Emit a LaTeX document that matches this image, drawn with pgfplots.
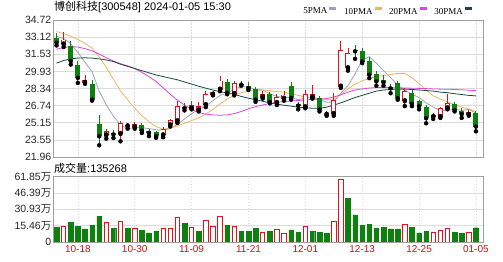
\documentclass[border=0pt]{standalone}
\usepackage{fontspec}
\setmainfont{Liberation Sans}
\newfontfamily\cjk{Noto Sans CJK SC}
\newfontfamily\pmafont{Liberation Serif}
\usepackage{pgfplots}
\usepackage{pgfplotstable}
\pgfplotsset{compat=1.18}
\definecolor{upred}{HTML}{E4111A}
\definecolor{dngreen}{HTML}{0E8010}
\definecolor{maA}{HTML}{9DA3B4}
\definecolor{maB}{HTML}{F0B466}
\definecolor{maC}{HTML}{DD44DD}
\definecolor{maD}{HTML}{1B4A3E}
\definecolor{gridc}{HTML}{DCDCDC}
\definecolor{axisc}{HTML}{A0A0A0}
\definecolor{xlab}{HTML}{D01010}

\pgfplotstableread{
x o h l c
1 32.45 33.60 32.20 32.90
4 28.86 29.64 28.77 29.14
7 23.98 24.60 23.67 24.36
9 24.11 25.35 23.42 25.13
10 24.82 25.10 24.60 24.92
11 24.73 25.20 24.60 25.04
15 23.98 24.80 23.80 24.60
16 24.92 25.50 24.80 25.38
17 25.29 27.16 25.13 26.69
19 26.47 27.21 26.40 26.78
20 26.32 27.10 26.20 26.69
21 26.80 28.10 26.60 27.85
22 27.77 28.10 27.70 28.00
23 28.24 29.49 28.09 29.08
25 27.84 29.00 27.70 28.86
29 27.53 28.10 27.40 27.84
31 27.00 27.80 26.80 27.53
32 27.40 28.10 27.20 27.77
35 26.60 28.20 26.50 27.84
36 27.50 28.68 27.40 27.80
38 25.90 26.20 25.80 26.00
39 25.97 27.93 25.80 27.28
40 28.52 32.72 28.40 31.95
41 30.24 32.10 30.00 31.63
49 27.16 28.40 26.70 28.08
53 25.70 26.10 25.50 25.85
54 25.70 26.60 25.60 26.50
55 26.50 27.80 26.40 27.00
58 25.90 26.30 25.80 26.15
}\up
\pgfplotstableread{
x o h l c
0 33.00 33.55 32.35 32.60
2 32.29 32.75 30.57 30.89
3 30.57 30.89 28.86 29.33
5 28.77 29.17 27.21 27.30
6 25.04 25.85 23.05 23.89
8 24.22 24.51 23.73 24.06
12 24.97 25.10 24.20 24.41
13 24.40 24.60 23.90 24.20
14 24.26 24.40 23.75 23.89
18 26.65 27.00 26.30 26.50
24 28.90 29.20 27.80 27.93
26 28.80 29.00 28.60 28.70
27 28.55 28.90 28.20 28.35
28 28.33 28.50 27.10 27.30
30 27.84 28.00 26.95 27.09
33 28.56 28.90 27.30 27.46
34 26.90 27.10 26.40 26.74
37 27.46 27.60 26.20 26.37
42 31.90 32.40 31.10 31.80
43 31.80 32.10 30.70 30.85
44 30.90 31.30 29.30 29.62
45 29.70 30.00 28.60 29.00
46 29.10 29.60 28.60 28.90
47 28.40 28.80 27.90 28.35
48 28.86 29.00 27.30 27.43
50 27.90 28.20 26.70 26.90
51 27.15 27.30 26.40 26.69
52 26.65 26.80 25.10 25.57
56 26.90 27.10 26.20 26.33
57 26.20 26.50 25.60 25.95
59 26.06 26.20 24.35 24.79
}\dn
\pgfplotstableread{
x m5 m10 m20 m30
0 33.20 33.65 32.00 30.70
1 33.00 33.45 32.15 30.95
2 32.50 33.20 32.25 31.10
3 31.70 32.90 32.20 31.17
4 30.80 32.55 32.05 31.20
5 29.90 32.10 31.85 31.17
6 28.10 31.30 31.55 31.10
7 26.80 30.30 31.20 31.00
8 25.75 29.20 30.90 30.85
9 24.95 28.10 30.65 30.60
10 24.60 27.30 30.45 30.40
11 24.70 26.50 30.20 30.20
12 24.70 25.80 29.85 30.00
13 24.60 25.25 29.45 29.80
14 24.50 24.80 29.00 29.60
15 24.45 24.55 28.40 29.45
16 24.60 24.65 27.80 29.30
17 25.00 24.85 27.25 29.15
18 25.50 25.10 26.80 28.95
19 26.00 25.35 26.40 28.75
20 26.40 25.60 26.10 28.55
21 26.70 25.95 25.95 28.37
22 27.20 26.40 25.88 28.20
23 27.70 26.90 25.85 28.05
24 27.90 27.35 25.88 27.92
25 28.30 27.70 26.00 27.80
26 28.50 27.95 26.20 27.60
27 28.50 28.10 26.45 27.44
28 28.25 28.15 26.65 27.30
29 28.20 28.20 26.80 27.15
30 27.85 28.15 26.95 27.00
31 27.60 28.05 27.05 26.88
32 27.50 28.00 27.12 26.78
33 27.50 27.85 27.18 26.70
34 27.30 27.70 27.22 26.60
35 27.45 27.55 27.28 26.55
36 27.55 27.50 27.32 26.50
37 27.30 27.40 27.35 26.50
38 27.05 27.30 27.40 26.60
39 27.10 27.35 27.55 26.80
40 27.90 27.80 27.75 27.00
41 28.60 28.30 28.00 27.25
42 29.70 28.75 28.20 27.50
43 31.00 29.05 28.30 27.70
44 31.30 29.30 28.38 27.90
45 30.70 29.45 28.43 28.10
46 30.00 29.55 28.43 28.20
47 29.35 29.65 28.42 28.25
48 28.65 29.75 28.40 28.28
49 28.20 29.75 28.38 28.28
50 27.80 29.35 28.37 28.25
51 27.50 28.80 28.35 28.20
52 27.00 28.20 28.33 28.15
53 26.60 27.65 28.30 28.10
54 26.30 27.35 28.28 28.00
55 26.30 27.10 28.27 27.95
56 26.40 26.85 28.25 27.85
57 26.30 26.60 28.22 27.78
58 26.40 26.45 28.18 27.70
59 26.05 26.20 28.15 27.65
}\ma
\pgfplotstableread{
x v
1 14.4
7 18.6
9 19.5
11 13.1
15 13.1
16 13.1
17 23.0
19 14.1
21 20.5
22 14.4
23 24.0
25 14.7
29 8.9
31 11.5
32 7.9
35 15.1
39 19.1
40 58.9
49 16.6
53 8.6
54 11.2
55 12.8
58 8.6
}\volR
\pgfplotstableread{
x v
0 14.4
2 18.6
3 14.7
4 12.5
5 15.7
6 24.0
8 12.8
10 12.8
12 11.2
13 8.6
14 10.2
18 17.3
20 10.2
24 15.7
26 10.2
27 10.2
28 12.8
30 9.9
33 11.5
34 8.9
36 10.5
37 8.9
38 7.9
41 41.3
42 25.6
43 15.7
44 16.6
45 13.4
46 14.1
47 12.5
48 12.5
50 14.1
51 8.6
52 10.2
56 9.3
57 8.3
59 13.5
}\volG

\pgfplotsset{
  panel/.style={
    scale only axis, width=430bp, xmin=-0.5, xmax=60,
    xtick={3,11,19,27,35,43,51,59},
    major tick length=0pt, tick style={draw=none},
    xmajorgrids, ymajorgrids,
    x grid style={color=gridc, line width=0.6bp, dash pattern=on 1.5bp off 1.5bp},
    y grid style={color=gridc, line width=0.6bp},
    axis line style={color=axisc, line width=0.8bp},
    yticklabel style={font=\fontsize{10.5bp}{12bp}\selectfont, inner sep=1.5bp, color=black!85},
    /pgf/number format/assume math mode=true,
  },
  candle/.style={forget plot, only marks, mark=none,
    error bars/.cd, y dir=plus, y explicit, error mark=none},
}

\begin{document}
\begin{tikzpicture}
\useasboundingbox (0,0) rectangle (503bp,262bp);
\begin{axis}[panel,
  at={(53bp,105bp)}, anchor=south west, height=137bp,
  ymin=21.96, ymax=34.72,
  ytick={21.96,23.55,25.15,26.74,28.34,29.93,31.53,33.12,34.72},
  yticklabels={21.96,23.55,25.15,26.74,28.34,29.93,31.53,33.12,34.72},
  xticklabels={},
  legend columns=4, legend plot pos=right,
  legend style={at={(0.978,1)}, anchor=south east, yshift=4bp, draw=none, fill=none,
    inner sep=0pt, nodes={inner sep=0.3bp}, font=\pmafont\fontsize{9bp}{10.5bp}\selectfont,
    /tikz/every even column/.append style={column sep=6bp},
    /tikz/every odd column/.append style={column sep=0.5bp}},
  legend image code/.code={\draw[#1, line width=2.6bp] (0bp,3bp) -- (7bp,3bp);},
]
\addplot[color=maA, line width=0.8bp] table[x=x, y=m5] {\ma};
\addlegendentry{5PMA}
\addplot[color=maB, line width=0.8bp] table[x=x, y=m10] {\ma};
\addlegendentry{10PMA}
\addplot[color=maC, line width=0.8bp] table[x=x, y=m20] {\ma};
\addlegendentry{20PMA}
\addplot[color=maD, line width=0.8bp] table[x=x, y=m30] {\ma};
\addlegendentry{30PMA}
% wicks
\addplot[candle, error bar style={draw=upred, line width=0.8bp}]
  table[x=x, y=l, y error expr=\thisrow{h}-\thisrow{l}] {\up};
\addplot[candle, error bar style={draw=dngreen, line width=0.8bp}]
  table[x=x, y=l, y error expr=\thisrow{h}-\thisrow{l}] {\dn};
% bodies
\addplot[candle, error bar style={draw=upred, line width=5bp}]
  table[x=x, y=o, y error expr={max(\thisrow{c}-\thisrow{o},0.1)}] {\up};
\addplot[candle, error bar style={draw=white, line width=3.4bp}]
  table[x=x, y expr=\thisrow{o}+0.08, y error expr={max(\thisrow{c}-\thisrow{o}-0.16,0)}] {\up};
\addplot[candle, error bar style={draw=dngreen, line width=5bp}]
  table[x=x, y=c, y error expr={max(\thisrow{o}-\thisrow{c},0.1)}] {\dn};
\end{axis}

\begin{axis}[panel,
  at={(53bp,20bp)}, anchor=south west, height=65.5bp,
  ymin=0, ymax=61.85,
  ytick={0,15.46,30.93,46.39,61.85},
  yticklabels={0,{15.46{\cjk 万}},{30.93{\cjk 万}},{46.39{\cjk 万}},{61.85{\cjk 万}}},
  xticklabels={10-18,10-30,11-09,11-21,12-01,12-13,12-25,01-05},
  xticklabel style={font=\fontsize{10bp}{12bp}\selectfont, color=xlab, inner sep=1bp, yshift=-2bp},
]
\addplot[forget plot, ybar, bar width=4.6bp, bar shift=0pt, fill=dngreen, draw=dngreen, line width=0.4bp]
  table[x=x, y=v] {\volG};
\addplot[forget plot, ybar, bar width=4.4bp, bar shift=0pt, fill=white, draw=upred, line width=0.8bp]
  table[x=x, y=v] {\volR};
\end{axis}

\node[anchor=west, inner sep=0pt, font=\fontsize{11bp}{13bp}\selectfont] at (54bp,254.5bp)
  {{\cjk 博创科技}[300548]\ 2024-01-05\ 15:30};
\node[anchor=west, inner sep=0pt, font=\fontsize{11bp}{13bp}\selectfont] at (54bp,94bp)
  {{\cjk 成交量}:135268};
\end{tikzpicture}
\end{document}
